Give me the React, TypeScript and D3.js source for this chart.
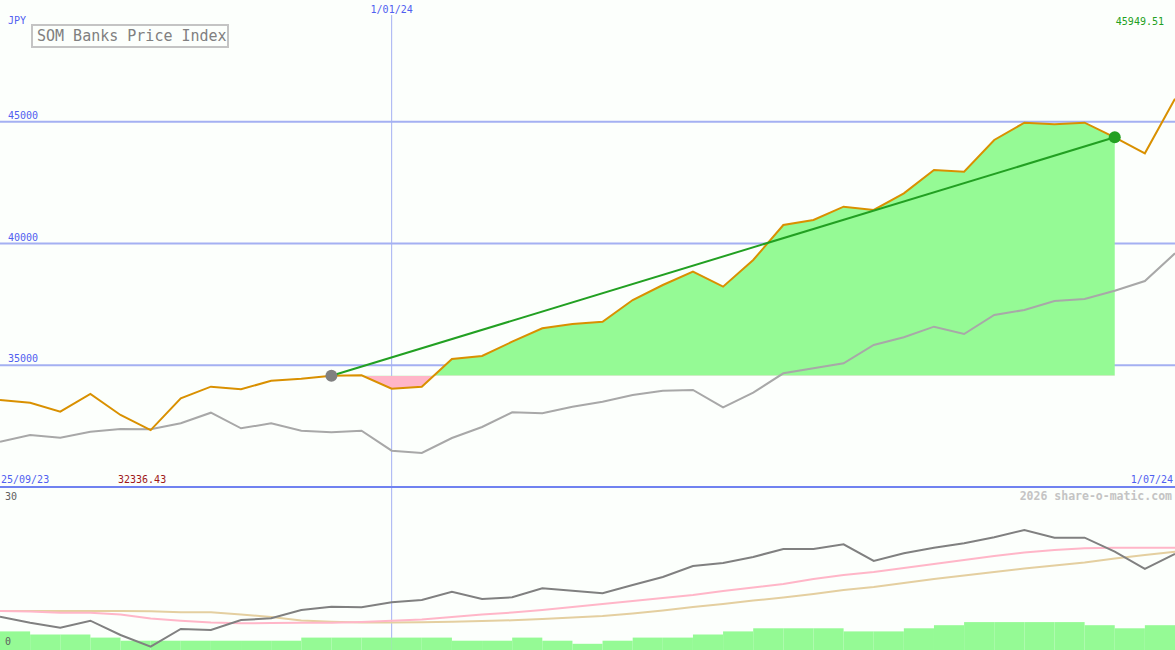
import React from 'react';
import * as d3 from 'd3';

// weekly closes, index 0 = 25/09/23
const price = [33573, 33462, 33093, 33820, 32957, 32336.43, 33643, 34120, 34012, 34366,
  34448, 34571, 34590, 34037, 34120, 35257, 35380, 35967, 36518, 36694,
  36789, 37680, 38296, 38843, 38227, 39323, 40760, 40966, 41512, 41376,
  42061, 43019, 42949, 44251, 44962, 44896, 44962, 44362, 43705, 45949.51];

const compare = [31861, 32136, 32026, 32272, 32382, 32369, 32616, 33052, 32410, 32616,
  32313, 32246, 32313, 31491, 31396, 32012, 32464, 33068, 33027, 33298,
  33503, 33778, 33955, 33984, 33273, 33873, 34670, 34875, 35080, 35832,
  36148, 36584, 36284, 37064, 37269, 37639, 37721, 38062, 38460, 39598];

// lower panel
const strength = [6.24, 5.12, 4.18, 5.49, 2.81, 0.62, 3.94, 3.75, 5.63, 5.94,
  7.5, 8.12, 8.01, 8.94, 9.38, 10.93, 9.56, 9.88, 11.57, 11.12,
  10.63, 12.19, 13.69, 15.75, 16.31, 17.44, 18.94, 18.94, 19.82, 16.69,
  18.13, 19.18, 20.01, 21.13, 22.5, 21.06, 21.06, 18.43, 15.19, 18.0];

const fastAvg = [7.31, 7.22, 6.99, 6.98, 6.64, 5.91, 5.48, 5.16, 5.01, 5.06,
  5.12, 5.12, 5.25, 5.49, 5.72, 6.19, 6.66, 7.03, 7.5, 8.06,
  8.63, 9.19, 9.75, 10.31, 11.06, 11.72, 12.38, 13.31, 14.06, 14.63,
  15.38, 16.13, 16.88, 17.63, 18.28, 18.75, 19.07, 19.18, 19.18, 19.18];

const slowAvg = [7.31, 7.31, 7.31, 7.31, 7.31, 7.28, 7.07, 7.07, 6.66, 6.19,
  5.53, 5.31, 5.16, 5.16, 5.19, 5.29, 5.44, 5.57, 5.81, 6.09,
  6.38, 6.84, 7.41, 8.06, 8.63, 9.28, 9.84, 10.5, 11.25, 11.81,
  12.56, 13.31, 13.97, 14.63, 15.28, 15.84, 16.41, 17.16, 17.81, 18.43];

const volume = [6, 5, 5, 4, 3, 3, 3, 3, 3, 3,
  4, 4, 4, 4, 4, 3, 3, 4, 3, 2,
  3, 4, 4, 5, 6, 7, 7, 7, 6, 6,
  7, 8, 9, 9, 9, 9, 8, 7, 8];

const priceTicks = [35000, 40000, 45000];
const startLabel = '25/09/23';
const endLabel = '1/07/24';
const yearIndex = 13;
const yearLabel = '1/01/24';
const trendFrom = 11;
const trendTo = 37;

const width = 1175;
const height = 650;
const mainBottom = 487;
const font = '"DejaVu Sans Mono", monospace';

const x = d3.scaleLinear().domain([0, price.length - 1]).range([0, width]);
const y = d3.scaleLinear().domain([30000, 50000]).range([mainBottom, 0]);
const yLow = d3.scaleLinear().domain([0, 30]).range([650, 490]);
const yBar = d3.scaleLinear().domain([0, 10]).range([650, 619]);

const lineOf = (arr: number[], sy: d3.ScaleLinear<number, number>) =>
  d3.line<number>().x((_, i) => x(i)).y(d => sy(d))(arr) || '';

const base = price[trendFrom];
const idx = d3.range(trendFrom, trendTo + 1);
const fillPath = d3.area<number>()
  .x(i => x(i))
  .y0(y(base))
  .y1(i => y(price[i]))(idx) || '';

const minIdx = d3.minIndex(price);
const last = price[price.length - 1];

export default function App() {
  return (
    <svg width={width} height={height} style={{ position: 'absolute', left: 0, top: 0 }}>
      <defs>
        <clipPath id="above"><rect x={0} y={0} width={width} height={y(base)} /></clipPath>
        <clipPath id="below"><rect x={0} y={y(base)} width={width} height={mainBottom - y(base)} /></clipPath>
      </defs>
      <rect width={width} height={height} fill="#fcfffc" />

      {/* grid */}
      {priceTicks.map(t => (
        <g key={t}>
          <line x1={0} x2={width} y1={y(t)} y2={y(t)} stroke="#a4b0f2" strokeWidth={2} />
          <text x={8} y={y(t) - 3} fontFamily={font} fontSize={10} fill="#5060f0">{t}</text>
        </g>
      ))}
      <line x1={x(yearIndex)} x2={x(yearIndex)} y1={15} y2={height} stroke="#a4b0f2" strokeWidth={1} />

      {/* lower bars */}
      {volume.map((v, i) => (
        <rect key={i} x={x(i)} y={yBar(v)} width={x(i + 1) - x(i)} height={650 - yBar(v)} fill="#95fa95" />
      ))}

      {/* fill between price and trend start level */}
      <path d={fillPath} fill="#95fa95" clipPath="url(#above)" />
      <path d={fillPath} fill="#ffb6c8" clipPath="url(#below)" />

      <path d={lineOf(compare, y)} fill="none" stroke="#a8a8a8" strokeWidth={2} />
      <path d={lineOf(price, y)} fill="none" stroke="#d99000" strokeWidth={2} />

      <line x1={x(trendFrom)} y1={y(price[trendFrom])} x2={x(trendTo)} y2={y(price[trendTo])}
        stroke="#22a022" strokeWidth={2} />
      <circle cx={x(trendFrom)} cy={y(price[trendFrom])} r={6} fill="#808080" />
      <circle cx={x(trendTo)} cy={y(price[trendTo])} r={6} fill="#22a022" />

      {/* lower lines */}
      <path d={lineOf(slowAvg, yLow)} fill="none" stroke="#e4cfa0" strokeWidth={2} />
      <path d={lineOf(fastAvg, yLow)} fill="none" stroke="#ffb6c8" strokeWidth={2} />
      <path d={lineOf(strength, yLow)} fill="none" stroke="#808080" strokeWidth={2} />

      <line x1={0} x2={width} y1={mainBottom} y2={mainBottom} stroke="#7082f0" strokeWidth={2} />

      {/* labels */}
      <text x={8} y={24} fontFamily={font} fontSize={10} fill="#5060f0">JPY</text>
      <rect x={32} y={25} width={196} height={22} fill="none" stroke="#c4c4c4" strokeWidth={2} />
      <text x={37} y={41} fontFamily={font} fontSize={15} fill="#808080">SOM Banks Price Index</text>
      <text x={x(yearIndex)} y={13} textAnchor="middle" fontFamily={font} fontSize={10} fill="#5060f0">{yearLabel}</text>
      <text x={1164} y={25} textAnchor="end" fontFamily={font} fontSize={10} fill="#22a022">{last.toFixed(2)}</text>
      <text x={1} y={483} fontFamily={font} fontSize={10} fill="#5060f0">{startLabel}</text>
      <text x={118} y={483} fontFamily={font} fontSize={10} fill="#a01818">{price[minIdx].toFixed(2)}</text>
      <text x={1173} y={483} textAnchor="end" fontFamily={font} fontSize={10} fill="#5060f0">{endLabel}</text>
      <text x={1172} y={500} textAnchor="end" fontFamily={font} fontSize={11.5} fontWeight="bold" fill="#c4c4c4">2026 share-o-matic.com</text>
      <text x={5} y={500} fontFamily={font} fontSize={10} fill="#606060">30</text>
      <text x={5} y={645} fontFamily={font} fontSize={10} fill="#606060">0</text>
    </svg>
  );
}
